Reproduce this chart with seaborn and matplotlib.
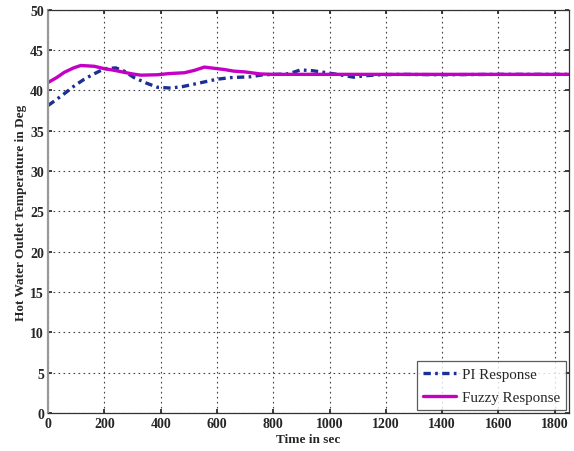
import matplotlib
matplotlib.use("Agg")

import pandas as pd
import matplotlib.pyplot as plt
import seaborn as sns

# values
pi_time = [0, 30, 57, 90, 128, 165, 200, 240, 270, 305, 350, 388, 435, 480,
           520, 560, 600, 650, 718, 764, 810, 848, 875, 896, 940, 980, 1027,
           1060, 1085, 1134, 1180, 1250, 1400, 1600, 1850]
pi_temp = [38.15, 38.9, 39.6, 40.5, 41.4, 42.1, 42.7, 42.8, 42.4, 41.6, 40.9,
           40.4, 40.3, 40.5, 40.8, 41.1, 41.4, 41.6, 41.7, 41.95, 42.0, 42.05,
           42.3, 42.55, 42.45, 42.25, 42.0, 41.8, 41.65, 41.85, 41.95, 42.0,
           41.95, 42.0, 42.0]

fz_time = [0, 30, 57, 90, 116, 164, 200, 235, 270, 300, 329, 388, 430, 484,
           520, 555, 590, 626, 659, 700, 754, 800, 900, 1200, 1500, 1850]
fz_temp = [41.0, 41.6, 42.25, 42.8, 43.1, 43.0, 42.7, 42.5, 42.25, 42.05, 41.9,
           41.95, 42.1, 42.2, 42.5, 42.9, 42.75, 42.6, 42.4, 42.3, 42.05, 42.0,
           42.0, 42.0, 42.0, 42.0]

pi_df = pd.DataFrame({'time': pi_time, 'temp': pi_temp})
fz_df = pd.DataFrame({'time': fz_time, 'temp': fz_temp})

sns.set_theme(style="white")
plt.rcParams['font.family'] = ['Liberation Serif', 'DejaVu Serif']

fig = plt.figure(figsize=(5.74, 4.52), dpi=100)
ax = fig.add_axes([0.084, 0.084, 0.907, 0.892])

sns.lineplot(data=pi_df, x='time', y='temp', ax=ax, color='#1c2f94',
             linewidth=2.4, dashes=False, sort=False, label='PI Response')
ax.lines[-1].set_dashes([2.2, 1.3, 0.8, 1.3])
sns.lineplot(data=fz_df, x='time', y='temp', ax=ax, color='#c400c4',
             linewidth=2.4, sort=False, label='Fuzzy Response')

ax.set_xlim(0, 1850)
ax.set_ylim(0, 50)
ax.set_xticks(range(0, 1801, 200))
ax.set_yticks(range(0, 51, 5))
ax.grid(True, color='#444444', linestyle=(0, (1.5, 3)), linewidth=0.8)

for spine in ax.spines.values():
    spine.set_color('#333333')
    spine.set_linewidth(0.9)
ax.spines['left'].set_color('#999999')
ax.spines['left'].set_linewidth(1.6)

ax.tick_params(axis='both', labelsize=10, length=3, direction='in', pad=3,
               bottom=True, left=True, top=True, right=True)
for lbl in ax.get_xticklabels() + ax.get_yticklabels():
    lbl.set_fontweight('bold')

ax.set_xlabel('Time in sec', fontsize=9.5, fontweight='bold', labelpad=2)
ax.set_ylabel('Hot Water Outlet Temperature in Deg', fontsize=9.5,
              fontweight='bold', labelpad=2)

leg = ax.legend(loc='lower right', fontsize=10.8, frameon=True, fancybox=False,
                borderpad=0.4, handlelength=2.2, labelspacing=0.65,
                handletextpad=0.4, borderaxespad=0.2)
leg.get_frame().set_edgecolor('#333333')
leg.get_frame().set_linewidth(0.9)
leg.get_lines()[0].set_dashes([2.2, 1.3, 0.8, 1.3])

plt.savefig('out.png', dpi=100)
plt.close()
